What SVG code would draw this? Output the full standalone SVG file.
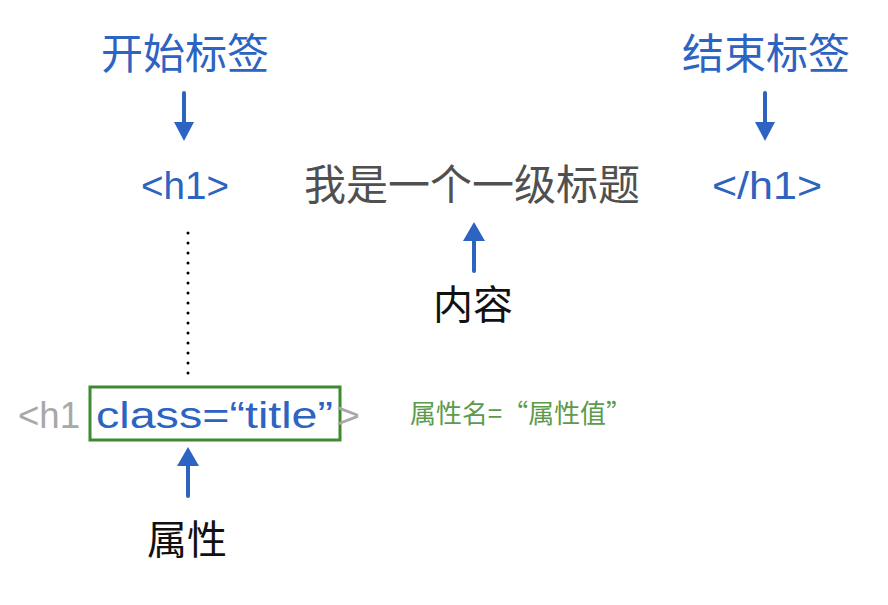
<svg xmlns="http://www.w3.org/2000/svg" width="888" height="605" viewBox="0 0 888 605">
<style>
.cjk{font-family:"Noto Sans CJK SC","Noto Sans",sans-serif}
.lat{font-family:"Liberation Sans","Noto Sans CJK SC",sans-serif}
.blue{fill:#2d63c1}
.gray{fill:#a8a8a8}
.dark{fill:#505050}
.black{fill:#111}
.green{fill:#5c9a4c}
.arrow{stroke:#2d63c1;stroke-width:4;stroke-linecap:round;fill:none}
.head{fill:#2d63c1}
</style>
<rect width="888" height="605" fill="#fff"/>
<g id="start-tag-label"><text class="cjk blue" x="185" y="69" font-size="42" text-anchor="middle">开始标签</text></g>
<g id="end-tag-label"><text class="cjk blue" x="766" y="69" font-size="42" text-anchor="middle">结束标签</text></g>
<g id="open-tag"><text class="lat blue" x="185" y="199" font-size="38" text-anchor="middle" textLength="88" lengthAdjust="spacingAndGlyphs">&lt;h1&gt;</text></g>
<g id="content-text"><text class="cjk dark" x="472" y="200" font-size="42" text-anchor="middle">我是一个一级标题</text></g>
<g id="close-tag"><text class="lat blue" x="767" y="199" font-size="38" text-anchor="middle" textLength="110" lengthAdjust="spacingAndGlyphs">&lt;/h1&gt;</text></g>
<g id="content-label"><text class="cjk black" x="473" y="319" font-size="40" text-anchor="middle">内容</text></g>
<g id="attr-line">
<text class="lat gray" x="18" y="428" font-size="36" textLength="62" lengthAdjust="spacingAndGlyphs">&lt;h1</text>
<rect x="90" y="387" width="250" height="53" fill="none" stroke="#3d8a2f" stroke-width="3"/>
<text class="lat blue" x="96" y="428" font-size="37" textLength="237" lengthAdjust="spacingAndGlyphs">class=“title”</text>
<text class="lat gray" x="336" y="428" font-size="36" textLength="24" lengthAdjust="spacingAndGlyphs">&gt;</text>
</g>
<g id="attr-syntax"><text class="cjk green" x="410" y="423" font-size="26" textLength="222" lengthAdjust="spacingAndGlyphs">属性名=“属性值”</text></g>
<g id="attr-label"><text class="cjk black" x="187" y="554" font-size="40" text-anchor="middle">属性</text></g>
<g id="connectors">
<line class="arrow" x1="184" y1="93" x2="184" y2="126"/>
<polygon class="head" points="174,122 194,122 184,141"/>
<line class="arrow" x1="765" y1="93" x2="765" y2="126"/>
<polygon class="head" points="755,122 775,122 765,141"/>
<line class="arrow" x1="474" y1="271" x2="474" y2="236"/>
<polygon class="head" points="463,241 485,241 474,222"/>
<line class="arrow" x1="188" y1="496" x2="188" y2="461"/>
<polygon class="head" points="177,466 199,466 188,447"/>
<line x1="188" y1="233" x2="188" y2="375" stroke="#000" stroke-width="3" stroke-dasharray="0 10" stroke-linecap="round"/>
</g>
</svg>
